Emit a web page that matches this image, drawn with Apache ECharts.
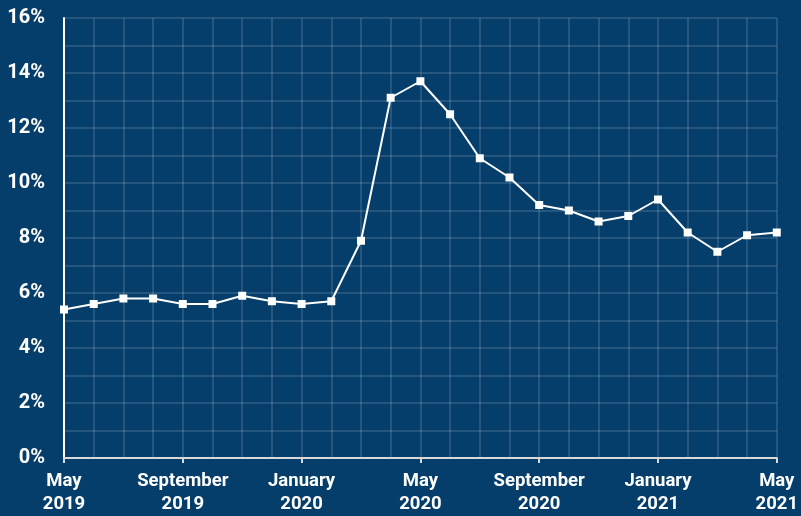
<!DOCTYPE html>
<html><head><meta charset="utf-8">
<script src="https://cdn.jsdelivr.net/npm/echarts@6/dist/echarts.min.js"></script>
<style>html,body{margin:0;padding:0;background:#063e6b;}#c{width:801px;height:516px;}</style>
</head><body><div id="c"></div>
<script>
const months = ['May\n2019','Jun\n2019','Jul\n2019','Aug\n2019','September\n2019','Oct\n2019','Nov\n2019','Dec\n2019','January\n2020','Feb\n2020','Mar\n2020','Apr\n2020','May\n2020','Jun\n2020','Jul\n2020','Aug\n2020','September\n2020','Oct\n2020','Nov\n2020','Dec\n2020','January\n2021','Feb\n2021','Mar\n2021','Apr\n2021','May\n2021'];
const rates = [5.4,5.6,5.8,5.8,5.6,5.6,5.9,5.7,5.6,5.7,7.9,13.1,13.7,12.5,10.9,10.2,9.2,9.0,8.6,8.8,9.4,8.2,7.5,8.1,8.2];
const yTicks = {min:0,max:16,interval:1};
const chart = echarts.init(document.getElementById('c'));
chart.setOption({
  backgroundColor:'#063e6b',
  grid:{left:64,right:20,top:18,bottom:56,containLabel:false},
  xAxis:{type:'category',data:months,boundaryGap:false,
    axisLine:{lineStyle:{color:'#d9d9d9',width:2}},
    axisTick:{interval:3,length:5,lineStyle:{color:'#d9d9d9',width:2}},
    axisLabel:{interval:3,color:'#fff',fontFamily:'Roboto',fontWeight:'bold',fontSize:18.5,lineHeight:23,margin:12},
    splitLine:{show:true,interval:0,lineStyle:{color:'rgba(255,255,255,0.17)',width:1.5}}},
  yAxis:{type:'value',min:yTicks.min,max:yTicks.max,interval:yTicks.interval,
    axisLine:{show:true,lineStyle:{color:'#fff',width:2}},
    axisTick:{show:false},
    axisLabel:{color:'#fff',fontFamily:'Roboto',fontWeight:'bold',fontSize:20,margin:19,
      formatter:v=> v%2===0 ? v+'%' : ''},
    splitLine:{show:true,lineStyle:{color:'rgba(255,255,255,0.17)',width:1.5}}},
  series:[{type:'line',data:rates,symbol:'rect',symbolSize:8,
    lineStyle:{color:'#fff',width:2},itemStyle:{color:'#fff'},animation:false}]
});
</script></body></html>
